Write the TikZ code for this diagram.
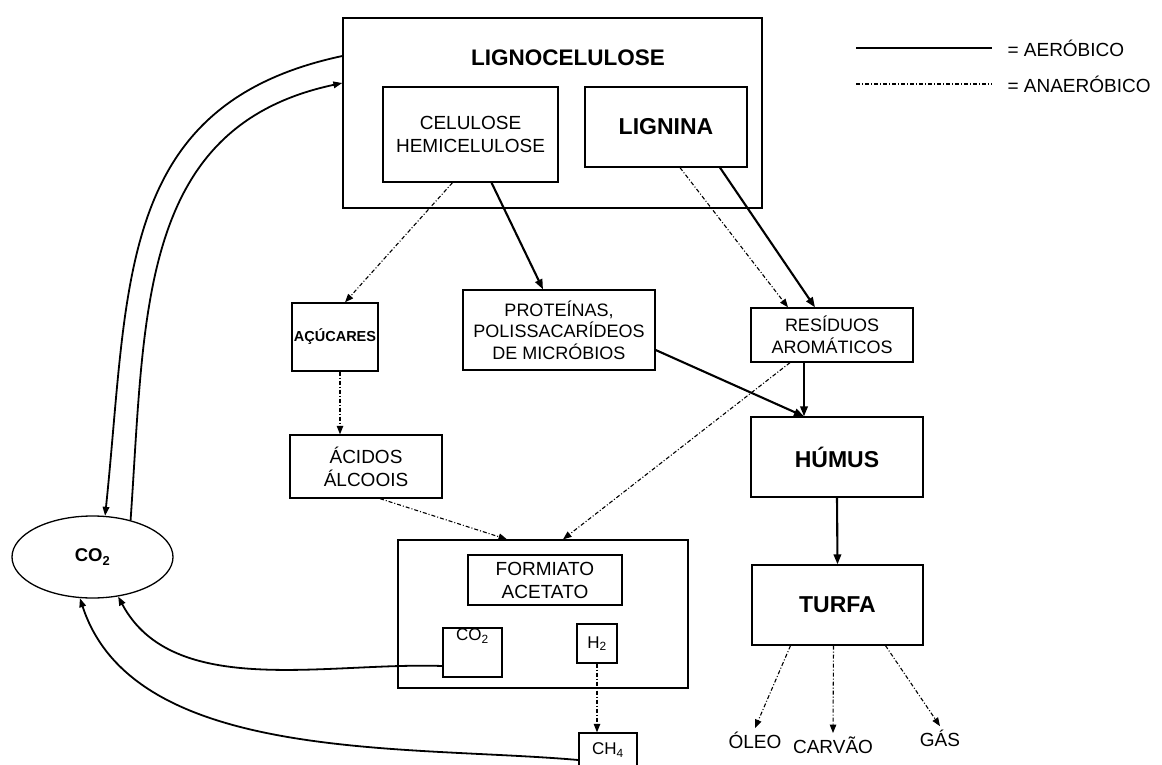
\documentclass[tikz,border=0pt]{standalone}
\usepackage{fontspec}
\setmainfont{Liberation Sans}
\usetikzlibrary{arrows.meta,shapes.geometric}

\begin{document}
\begin{tikzpicture}[x=1pt, y=1pt,
    box/.style={draw, line width=1.3pt, align=center, inner sep=0pt,
      font=\fontsize{19}{23}\selectfont},
    rot/.style={font=\fontsize{19}{22}\selectfont},
    aer/.style={line width=2.1pt, -{Triangle[length=10pt,width=7.5pt]}},
    ana/.style={line width=1.1pt, dash pattern=on 4pt off 2pt on 1pt off 2pt,
      -{Triangle[length=8.5pt,width=6.5pt]}},
    ciclo/.style={line width=1.8pt, -{Triangle[length=9pt,width=6.5pt]}}]
  \useasboundingbox (0,0) rectangle (1162,-765);

  % lignocelulose
  \node[box, minimum width=419, minimum height=190] (lig) at (552.5,-113) {};
  \node[font=\fontsize{22.5}{26}\selectfont\bfseries] (ligt) at (568,-58) {LIGNOCELULOSE};
  \node[box, minimum width=175, minimum height=95] (cel) at (470.5,-134.5) {CELULOSE\\HEMICELULOSE};
  \node[box, minimum width=162, minimum height=80, font=\fontsize{23}{26}\selectfont\bfseries] (lgn) at (666,-127) {LIGNINA};

  % produtos
  \node[box, minimum width=86, minimum height=68, font=\fontsize{14.5}{16}\selectfont\bfseries] (acu) at (335,-337) {AÇÚCARES};
  \node[box, minimum width=192, minimum height=80, font=\fontsize{18}{21.7}\selectfont] (prot) at (559,-330) {PROTEÍNAS,\\POLISSACARÍDEOS\\DE MICRÓBIOS};
  \node[box, minimum width=162, minimum height=54, font=\fontsize{18}{22}\selectfont] (resi) at (832,-335) {RESÍDUOS\\AROMÁTICOS};
  \node[box, minimum width=172, minimum height=80, font=\fontsize{23}{26}\selectfont\bfseries] (hum) at (837,-457) {HÚMUS};
  \node[box, minimum width=152, minimum height=63] (acid) at (366,-466.5) {ÁCIDOS\\ÁLCOOIS};
  \node[box, minimum width=171, minimum height=80, font=\fontsize{23}{26}\selectfont\bfseries] (turfa) at (837.5,-605) {TURFA};

  % fermentacao
  \node[box, minimum width=290, minimum height=148] (ferm) at (543,-614) {};
  \node[box, minimum width=154, minimum height=50] (form) at (545,-580) {FORMIATO\\ACETATO};
  \node[box, minimum width=59, font=\fontsize{17}{18}\selectfont, text height=12.5, text depth=36.5] (cob) at (472.5,-652.5) {CO\textsubscript{2}};
  \node[box, minimum width=40, minimum height=39, font=\fontsize{17}{18}\selectfont] (hyd) at (597,-643.5) {H\textsubscript{2}};
  \node[box, minimum width=58, minimum height=34, font=\fontsize{17}{18}\selectfont] (meth) at (608,-750) {CH\textsubscript{4}};

  \node[rot] (oleo) at (755,-740) {ÓLEO};
  \node[rot] (carvao) at (833,-745) {CARVÃO};
  \node[rot] (gas) at (940,-738) {GÁS};

  \node[ellipse, draw, line width=1.3pt, minimum width=161, minimum height=82,
    font=\fontsize{18.5}{20}\selectfont\bfseries] (co2) at (92.5,-557) {CO\textsubscript{2}};

  % legenda
  \node[rot, anchor=west] (leg1) at (1004,-48) {= AERÓBICO};
  \node[rot, anchor=west] (leg2) at (1004,-84) {= ANAERÓBICO};
  \draw[line width=2.1pt] ([xshift=-148]leg1.west) -- ([xshift=-12]leg1.west);
  \draw[line width=1.1pt, dash pattern=on 4pt off 2pt on 1pt off 2pt] ([xshift=-148]leg2.west) -- ([xshift=-12]leg2.west);

  % setas
  \draw[ana] ([xshift=-18]cel.south) -- ([xshift=10]acu.north);
  \draw[aer] ([xshift=21]cel.south) -- ([xshift=-16]prot.north);
  \draw[ana] ([xshift=14]lgn.south) -- ([xshift=-44]resi.north);
  \draw[aer] ([xshift=54]lgn.south) -- ([xshift=-17]resi.north);
  \draw[aer] ([yshift=-20]prot.east) -- ([xshift=-33]hum.north);
  \draw[aer] ([xshift=-28]resi.south) -- ([xshift=-33]hum.north);
  \draw[ana] ([xshift=5]acu.south) -- ([xshift=5]acu.south |- acid.north);
  \draw[ana] ([xshift=14]acid.south) -- ([xshift=-36]ferm.north);
  \draw[ana] ([xshift=-42]resi.south) -- ([xshift=20]ferm.north);
  \draw[aer] (hum.south) -- (turfa.south |- turfa.north);
  \draw[ana] ([xshift=-47]turfa.south) -- (oleo.north);
  \draw[ana] ([xshift=-4]turfa.south) -- (carvao.north);
  \draw[ana] ([xshift=48]turfa.south) -- (gas.north);
  \draw[ana] (hyd.south) -- (hyd.south |- meth.north);

  % ciclo do CO2
  \draw[ciclo] ([yshift=57]lig.west) to[out=192, in=84, looseness=1.15] (co2.73);
  \draw[ciclo] (co2.44) to[out=86, in=192, looseness=1.1] ([yshift=30]lig.west);
  \draw[ciclo] ([yshift=-13.5]cob.west) to[out=178, in=-62, looseness=0.9] (co2.-57);
  \draw[ciclo] ([yshift=-10]meth.west) to[out=175, in=-72, looseness=0.85] (co2.-107);
\end{tikzpicture}
\end{document}
